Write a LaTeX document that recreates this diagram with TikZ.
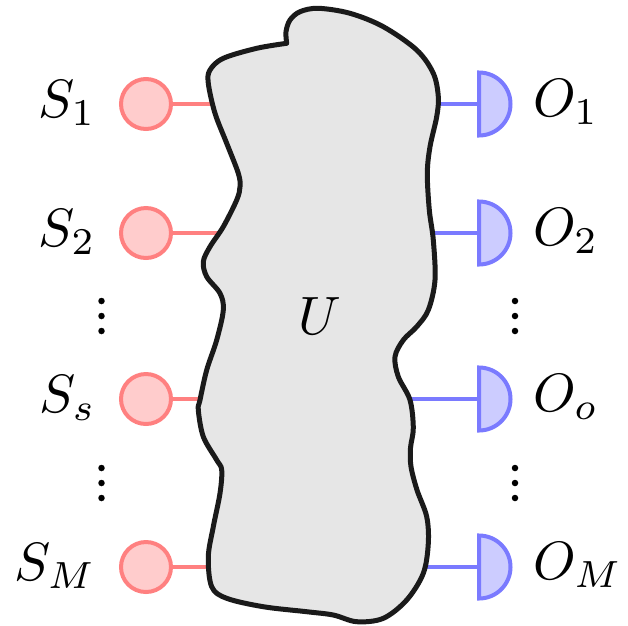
\documentclass[tikz,border=0pt]{standalone}
\definecolor{srcred}{RGB}{255,128,128}
\definecolor{srcfill}{RGB}{255,204,204}
\definecolor{detblue}{RGB}{122,122,255}
\definecolor{detfill}{RGB}{204,204,255}
\definecolor{blobfill}{RGB}{230,230,230}
\definecolor{blobline}{RGB}{26,26,26}
\begin{document}
\begin{tikzpicture}[x=1pt,y=-1pt,
  src/.style={circle,draw=srcred,fill=srcfill,line width=4pt,minimum size=50pt,inner sep=0pt},
  srcline/.style={draw=srcred,line width=3.6pt},
  detline/.style={draw=detblue,line width=3.6pt},
  det/.style={draw=detblue,fill=detfill,line width=4pt,line join=miter},
  blob/.style={draw=blobline,fill=blobfill,line width=5pt,line join=round},
  lab/.style={scale=5.4,inner sep=0pt},
  dot/.style={circle,fill=black,inner sep=0pt,minimum size=6.5pt}]
\useasboundingbox (0,0) rectangle (628,625);
% blob edge coordinates
\coordinate (b1) at (216,104);
\coordinate (b2) at (224,233);
\coordinate (bs) at (205,399);
\coordinate (bm) at (214,567);
\coordinate (c1) at (433,104);
\coordinate (c2) at (427,233);
\coordinate (co) at (404,399);
\coordinate (cm) at (420,567);
% sources
\node[src] (s1) at (146,104) {};
\node[src] (s2) at (146,233) {};
\node[src] (ss) at (146,399) {};
\node[src] (sm) at (146,567) {};
% detector flat sides
\coordinate (o1) at (479,104);
\coordinate (o2) at (479,233);
\coordinate (oo) at (479,399);
\coordinate (om) at (479,567);
\draw[srcline] (s1) -- (b1);
\draw[srcline] (s2) -- (b2);
\draw[srcline] (ss) -- (bs);
\draw[srcline] (sm) -- (bm);
\draw[detline] (c1) -- (o1);
\draw[detline] (c2) -- (o2);
\draw[detline] (co) -- (oo);
\draw[detline] (cm) -- (om);
% blob
\draw[blob] plot[smooth,tension=0.55] coordinates {
 (286.7,43.3) (286,31.7) (290,20) (300,11.7) (318.3,8.3) (350,13.3)
 (383.3,26.7) (416.7,50) (433.3,73.3) (438.3,96.7) (436.7,116.7)
 (430,146.7) (427.3,173.3) (429.3,210) (433.3,240) (435,280) (428.3,310)
 (416.7,326.7) (403.3,340) (395,356.7) (398.3,376.7) (410,400)
 (413.3,428) (410.5,448) (411,466.7) (417,490) (426.7,516.7)
 (428.3,543.3) (423.3,573.3) (406.7,600) (383.3,618.3) (356.7,621.7)
 (333.3,615) (306.7,611.7) (263.3,606.7) (226.7,598.3) (211.7,586.7)
 (208.3,556.7) (213.3,526.7) (220,493.3) (221.7,470) (216.7,460)
 (203.3,436.7) (198.3,410) (200,400) (206.7,370) (216.7,340)
 (223.3,310) (220,293.3) (206.7,276.7) (203.3,261.7) (210,246.7)
 (223.3,226.7) (236.7,200) (240,186.7) (238.3,173.3) (226.7,143.3)
 (215,113.3) (208.3,83.3) (210,70) (223.3,58.3) (256.7,48.3)
 (286.7,43.3)} -- cycle;
\node[lab,anchor=base] (u) at (320,334) {$U$};
% detectors
\foreach \d in {o1,o2,oo,om}{
  \draw[det] (\d) ++(0,-31.5) arc[start angle=-90,end angle=90,radius=31.5] -- cycle;
}
% labels
\node[lab,anchor=base east] (ls1) at (97,117.5) {$S_1$};
\node[lab,anchor=base east] (ls2) at (97,246.5) {$S_2$};
\node[lab,anchor=base east] (lss) at (97,412.5) {$S_s$};
\node[lab,anchor=base east] (lsm) at (97,580.5) {$S_M$};
\node[lab,anchor=base west] (lo1) at (532,116) {$O_1$};
\node[lab,anchor=base west] (lo2) at (532,245) {$O_2$};
\node[lab,anchor=base west] (loo) at (532,411) {$O_o$};
\node[lab,anchor=base west] (lom) at (532,579) {$O_M$};
% dots
\foreach \y [count=\i] in {301,316,331}{
  \node[dot] (ld\i) at (101.5,\y) {};
  \node[dot] (rd\i) at (515,\y) {};
}
\foreach \y [count=\i] in {468,483,498}{
  \node[dot] (lda\i) at (101.5,\y) {};
  \node[dot] (rda\i) at (515,\y) {};
}
\end{tikzpicture}
\end{document}
